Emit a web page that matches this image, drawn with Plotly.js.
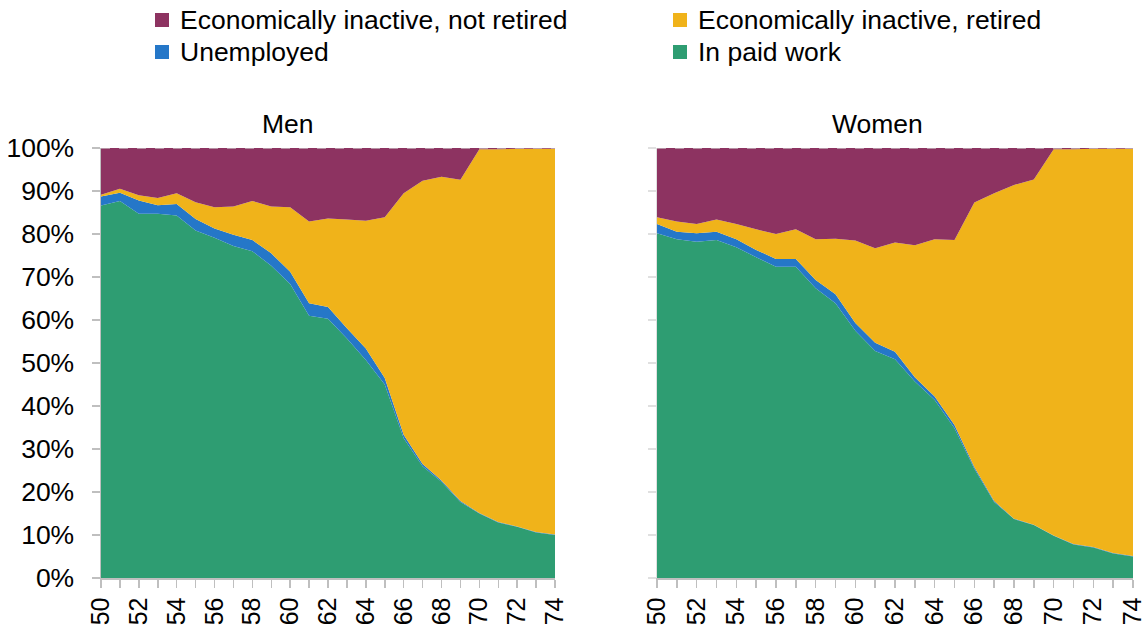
<!DOCTYPE html>
<html>
<head>
<meta charset="utf-8">
<script src="https://cdn.plot.ly/plotly-3.0.1.min.js"></script>
<style>html,body{margin:0;padding:0;background:#fff}#chart{width:1147px;height:625px}</style>
</head>
<body>
<div id="chart"></div>
<script>
// Ages
const ages = [50,51,52,53,54,55,56,57,58,59,60,61,62,63,64,65,66,67,68,69,70,71,72,73,74];

// Men (% of age group)
const menPaidWork   = [86.6,87.7,84.7,84.7,84.3,80.8,79.1,77.2,76.0,72.6,68.4,61.0,60.3,55.7,50.7,45.0,32.5,26.0,22.4,17.7,15.0,12.9,11.9,10.6,10.0];
const menUnemployed = [2.1,1.9,3.1,2.0,2.7,2.7,2.2,2.6,2.6,2.9,2.8,2.9,2.7,2.4,2.7,1.5,0.8,0.5,0.3,0.2,0.1,0.1,0.1,0.1,0.1];
const menRetired    = [0.4,0.9,1.2,1.7,2.5,3.9,4.9,6.6,9.1,10.9,15.0,19.0,20.6,25.3,29.7,37.4,56.2,65.9,70.6,74.7,84.6,86.7,87.8,89.1,89.7];
const menNotRetired = [10.9,9.5,11.0,11.6,10.5,12.6,13.8,13.6,12.3,13.6,13.8,17.1,16.4,16.6,16.9,16.1,10.5,7.6,6.7,7.4,0.3,0.3,0.2,0.2,0.2];

// Women (% of age group)
const womenPaidWork   = [80.2,78.8,78.2,78.6,76.9,74.6,72.4,72.4,67.4,63.9,57.5,52.8,50.9,45.7,41.4,34.8,25.4,17.7,13.7,12.3,9.8,7.8,7.1,5.7,5.0];
const womenUnemployed = [2.1,1.7,2.0,1.9,1.9,1.7,1.8,1.8,1.9,2.1,1.8,1.9,1.7,1.0,0.8,0.8,0.4,0.2,0.1,0.1,0.1,0.1,0.1,0.1,0.1];
const womenRetired    = [1.6,2.4,2.1,2.9,3.5,4.8,5.8,6.9,9.5,12.9,19.2,22.0,25.4,30.7,36.6,43.0,61.5,71.6,77.6,80.3,89.8,91.8,92.6,94.0,94.7];
const womenNotRetired = [16.1,17.1,17.7,16.6,17.7,18.9,20.0,18.9,21.2,21.1,21.5,23.3,22.0,22.6,21.2,21.4,12.7,10.5,8.6,7.3,0.3,0.3,0.2,0.2,0.2];

// Series names / colours
const seriesNames = ["In paid work","Unemployed","Economically inactive, retired","Economically inactive, not retired"];
const seriesColors = ["#2e9d72","#2577c8","#f0b31a","#8d3361"];
const panelTitles = ["Men","Women"];

const FONT = "Liberation Sans, Arial, sans-serif";
const FS = 26.5;

function panel(vals, xa, ya, sg) {
  return vals.map((v, i) => ({
    type: "scatter", mode: "none", x: ages, y: v,
    stackgroup: sg, fill: "tonexty", fillcolor: seriesColors[i],
    name: seriesNames[i], xaxis: xa, yaxis: ya, showlegend: false,
    hoverinfo: "x+y+name"
  }));
}

const traces = [
  ...panel([menPaidWork, menUnemployed, menRetired, menNotRetired], "x", "y", "men"),
  ...panel([womenPaidWork, womenUnemployed, womenRetired, womenNotRetired], "x2", "y2", "women")
];

const W = 1147, H = 625;
const px = v => v / W, py = v => 1 - v / H;

const axisCommon = {
  showgrid: false, zeroline: false, showline: true, linecolor: "#bfbfbf", linewidth: 1.5,
  ticks: "outside", ticklen: 8, tickcolor: "#bfbfbf", tickwidth: 1.5,
  tickfont: {family: FONT, size: FS, color: "#000"},
  ticklabeloverflow: "allow"
};

const xaxisBase = Object.assign({}, axisCommon, {
  range: [50, 74], tickmode: "linear", tick0: 50, dtick: 2, tickangle: -90,
  minor: {dtick: 1, ticks: "outside", ticklen: 8, tickcolor: "#bfbfbf", tickwidth: 1.5},
  ticklabelstandoff: 0,
  tickfont: {family: FONT, size: 25, color: "#000"}
});
const yaxisBase = Object.assign({}, axisCommon, {
  range: [0, 100], tickmode: "linear", tick0: 0, dtick: 10, ticksuffix: "%",
  ticklabelstandoff: 12
});

const annotations = [
  {text: panelTitles[0], x: px(288), y: py(124)},
  {text: panelTitles[1], x: px(877), y: py(124)}
].map(a => Object.assign(a, {xref: "paper", yref: "paper", showarrow: false, xanchor: "center", yanchor: "middle", font: {family: FONT, size: FS, color: "#000"}}));

// legend (manual, two columns): order matches reference
const legendItems = [
  {idx: 3, x: 155, y: 20},
  {idx: 2, x: 673, y: 20},
  {idx: 1, x: 155, y: 52},
  {idx: 0, x: 673, y: 52}
];
const shapes = [];
legendItems.forEach(it => {
  shapes.push({type: "rect", xref: "paper", yref: "paper", x0: px(it.x), x1: px(it.x + 14), y0: py(it.y + 7), y1: py(it.y - 7), fillcolor: seriesColors[it.idx], line: {width: 0}});
  annotations.push({text: seriesNames[it.idx], xref: "paper", yref: "paper", x: px(it.x + 23), y: py(it.y), xanchor: "left", yanchor: "middle", showarrow: false, font: {family: FONT, size: FS, color: "#000"}});
});
// dashed line at 100% in each panel
shapes.push({type: "line", xref: "x domain", yref: "y", x0: 0, x1: 1, y0: 100, y1: 100, line: {color: "#c4b2bb", width: 1.5, dash: "dash"}, layer: "above"});
shapes.push({type: "line", xref: "x2 domain", yref: "y2", x0: 0, x1: 1, y0: 100, y1: 100, line: {color: "#c4b2bb", width: 1.5, dash: "dash"}, layer: "above"});

const layout = {
  width: W, height: H,
  margin: {l: 0, r: 0, t: 0, b: 0},
  paper_bgcolor: "#fff", plot_bgcolor: "#fff",
  showlegend: false,
  xaxis: Object.assign({}, xaxisBase, {domain: [px(101), px(555)], anchor: "y"}),
  yaxis: Object.assign({}, yaxisBase, {domain: [py(578), py(148)], anchor: "x"}),
  xaxis2: Object.assign({}, xaxisBase, {domain: [px(657), px(1133)], anchor: "y2"}),
  yaxis2: Object.assign({}, yaxisBase, {domain: [py(578), py(148)], anchor: "x2", showticklabels: false, tickcolor: "#e0e0e0", linecolor: "#e0e0e0"}),
  annotations: annotations,
  shapes: shapes,
  font: {family: FONT, size: FS, color: "#000"}
};

Plotly.newPlot("chart", traces, layout, {displayModeBar: false, staticPlot: true});
</script>
</body>
</html>
